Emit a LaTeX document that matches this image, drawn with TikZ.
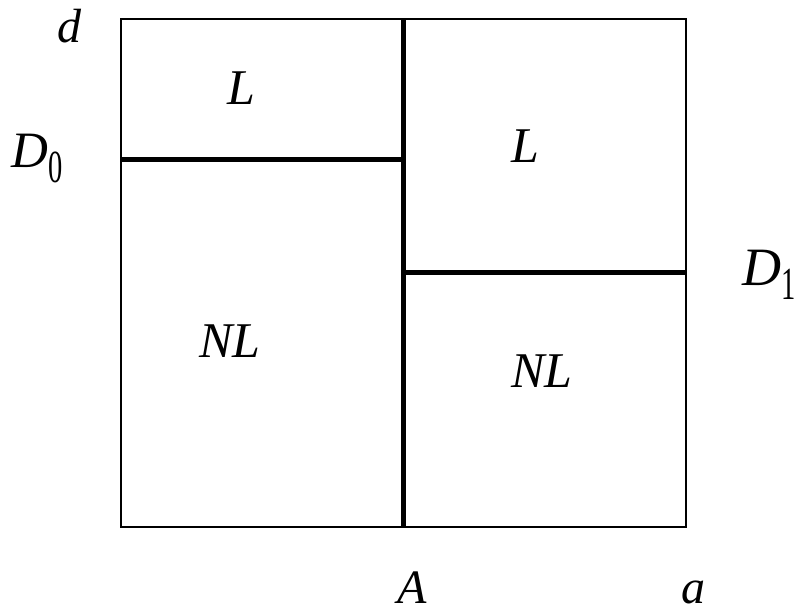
\documentclass[tikz,border=0pt]{standalone}
\usepackage{fontspec}
\setmainfont{Liberation Serif}
\usepackage{graphicx}
\tikzset{
  thin border/.style={line width=2pt, black},
  thick div/.style={line width=5pt, black},
  lbl/.style={inner sep=0pt, outer sep=0pt, anchor=base west, font=\itshape\fontsize{50}{50}\selectfont},
  axl/.style={inner sep=0pt, outer sep=0pt, anchor=base west, font=\itshape\fontsize{48}{48}\selectfont}
}
\newcommand{\subdig}[1]{\scalebox{0.62}[1]{\upshape\fontsize{46}{46}\selectfont #1}}
\begin{document}
\begin{tikzpicture}[x=1pt,y=-1pt]
\useasboundingbox (0,0) rectangle (796,615);
\coordinate (tl) at (121,19);
\coordinate (br) at (686,527);
\coordinate (vt) at (403,19);
\coordinate (vb) at (403,527);
\coordinate (d0l) at (121,160);
\coordinate (d0r) at (403,160);
\coordinate (d1l) at (403,272);
\coordinate (d1r) at (686,272);
\draw[thin border] (tl) rectangle (br);
\draw[thick div] (vt) -- (vb);
\draw[thick div] (d0l) -- (d0r);
\draw[thick div] (d1l) -- (d1r);
\node[lbl] (L1) at (227,105) {L};
\node[lbl] (L2) at (511,163) {L};
\node[lbl] (NL1) at (199,357) {NL};
\node[lbl] (NL2) at (511,387) {NL};
\node[axl] (d) at (57,43) {d};
\node[axl] (A) at (397,603) {A};
\node[axl] (a) at (681,603) {a};
\node[inner sep=0pt, anchor=base west, font=\itshape\fontsize{51}{51}\selectfont] (D0) at (11,168) {D\raisebox{-14pt}{\subdig{0}}};
\node[inner sep=0pt, anchor=base west, font=\itshape\fontsize{54}{54}\selectfont] (D1) at (742,285) {D\raisebox{-14pt}{\subdig{1}}};
\end{tikzpicture}
\end{document}
